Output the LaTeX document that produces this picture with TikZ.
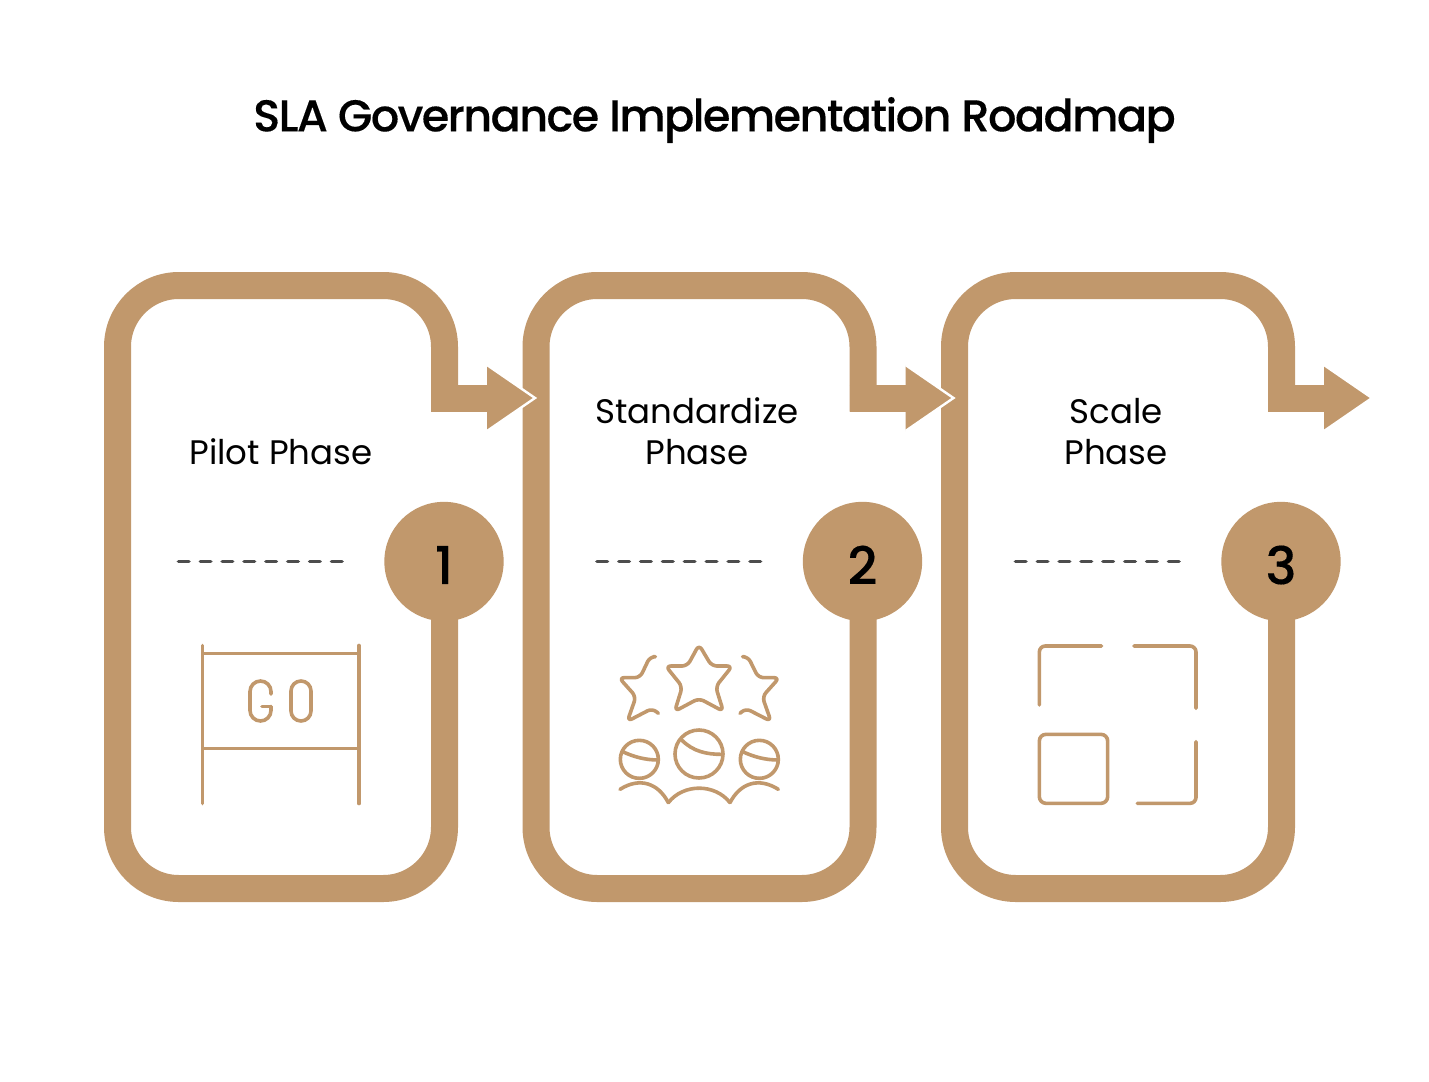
\documentclass[tikz,border=0pt]{standalone}
\usepackage{fontspec}
\setmainfont{Poppins}
\newfontfamily\mediumfont{Poppins Medium}[FakeBold=0.25]
\newfontfamily\titlefont{Poppins Medium}[LetterSpace=-3.5,FakeBold=0.25]
\usetikzlibrary{positioning}
\definecolor{camel}{HTML}{C1986C}
\definecolor{dashgray}{HTML}{4D4D4D}
\tikzset{
    x=0.75pt, y=-0.75pt, % one unit is one pixel of the reference
    loopframe/.style={draw=camel, line width=20.25pt, rounded corners=46pt}, % the thick box outline
    shaftline/.style={draw=camel, line width=20.25pt}, % the stub leaving the box
    badge/.style={circle, fill=camel, minimum size=89.5pt, inner sep=0pt},
    phaselabel/.style={align=center, inner sep=0pt, font=\fontsize{25.5}{30.8}\selectfont},
    divider/.style={draw=dashgray, line width=2.8pt, line cap=round, dash pattern=on 7.8pt off 8.6pt},
    iconline/.style={draw=camel, line width=2.7pt, line cap=round, line join=round},
}

\begin{document}
\begin{tikzpicture}
    \useasboundingbox[fill=white] (0,0) rectangle (1429,1082);
    \node[font=\titlefont\fontsize{33.4}{33.4}\selectfont] (title) at (714.5,120) {SLA Governance Implementation Roadmap};

    % boxes first, so that the arrow heads lie on top of the next box
    \foreach \i/\dx in {1/0, 2/418.5, 3/837}{
        \begin{scope}[shift={(\dx,0)}]
            \coordinate (start\i) at (444.5,600);
            \coordinate (stub\i) at (431,398);
            \coordinate (neck\i) at (490,398);
            \draw[loopframe] (start\i) -- (444.5,888.5) -- (117.5,888.5) -- (117.5,285.5) -- (444.5,285.5) -- (444.5,411.5);
            \draw[shaftline] (stub\i) -- (neck\i);
        \end{scope}
    }
    \foreach \i/\dx in {1/0, 2/418.5, 3/837}{
        \begin{scope}[shift={(\dx,0)}]
            \coordinate (headtop\i) at (487,365);
            \coordinate (headtip\i) at (535,398);
            \coordinate (headlow\i) at (487,431);
            \fill[camel] (headtop\i) -- (headtip\i) -- (headlow\i) -- cycle;
            \draw[white, line width=1.8pt] (headtop\i) -- (headtip\i) -- (headlow\i);
            \node[badge] (badge\i) at (444,561.5) {};
            \node[font=\mediumfont\fontsize{39}{39}\selectfont] (number\i) at (444,565) {\i};
            \coordinate (dashl\i) at (178.5,561.5);
            \coordinate (dashr\i) at (342.5,561.5);
            \draw[divider] (dashl\i) -- (dashr\i);
        \end{scope}
    }

    \node[phaselabel] (pilot) at (281,452) {Pilot Phase};
    \node[phaselabel] (standardize) at (697,431) {Standardize\\Phase};
    \node[phaselabel] (scale) at (1116,432) {Scale\\Phase};

    % GO sign, in pixels of the reference
    \begin{scope}[iconline]
        \draw (202.5,645.5) -- (202.5,803.5);
        \draw (359,645.5) -- (359,803.5);
        \draw[line cap=butt] (202.5,653.3) -- (359,653.3);
        \draw[line cap=butt] (202.5,748.3) -- (359,748.3);
        \draw[rounded corners=7.9pt] (271,694) -- (271,681) -- (250,681) -- (250,721) -- (271,721) -- (271,706.5);
        \draw (271,706.5) -- (262,706.5);
        \draw[rounded corners=7.5pt] (291,681) rectangle (311,721);
    \end{scope}

    % stars and balls, in thirds of a pixel
    \begin{scope}[shift={(600,630)}, x=0.25pt, y=-0.25pt, iconline]
        \draw[rounded corners=4pt] (297,44) -- (335,108) -- (397,108) -- (347,170) -- (370,244) -- (297,205) -- (224,244) -- (247,170) -- (197,108) -- (262,108) -- cycle;
        \draw[rounded corners=4pt] (160,80) -- (150,80) -- (120,143) -- (57,143) -- (108,200) -- (82,274) -- (157,235) -- (175,250);
        \draw[rounded corners=4pt] (433,80) -- (444,80) -- (475,143) -- (538,143) -- (487,200) -- (513,274) -- (437,235) -- (420,250);
        \draw (297,372) circle[radius=72];
        \draw (245,330) .. controls (280,365) and (320,373) .. (365,373);
        \draw (118,388) circle[radius=57];
        \draw (68,365) .. controls (100,380) and (135,390) .. (175,390);
        \draw (478,388) circle[radius=57];
        \draw (428,365) .. controls (460,380) and (495,390) .. (535,390);
        \draw (60,478) .. controls (120,440) and (175,460) .. (205,518);
        \draw (205,518) .. controls (250,460) and (345,460) .. (390,518);
        \draw (390,518) .. controls (420,460) and (475,440) .. (535,478);
    \end{scope}

    % scale corners, in thirds of a pixel
    \begin{scope}[shift={(1020,630)}, x=0.25pt, y=-0.25pt, iconline]
        \draw[rounded corners=4.5pt] (58,225) -- (58,48) -- (245,48);
        \draw[rounded corners=4.5pt] (342,48) -- (528,48) -- (528,235);
        \draw[rounded corners=4.5pt] (528,335) -- (528,520) -- (352,520);
        \draw[rounded corners=5pt] (58,313) rectangle (263,520);
    \end{scope}
\end{tikzpicture}
\end{document}
